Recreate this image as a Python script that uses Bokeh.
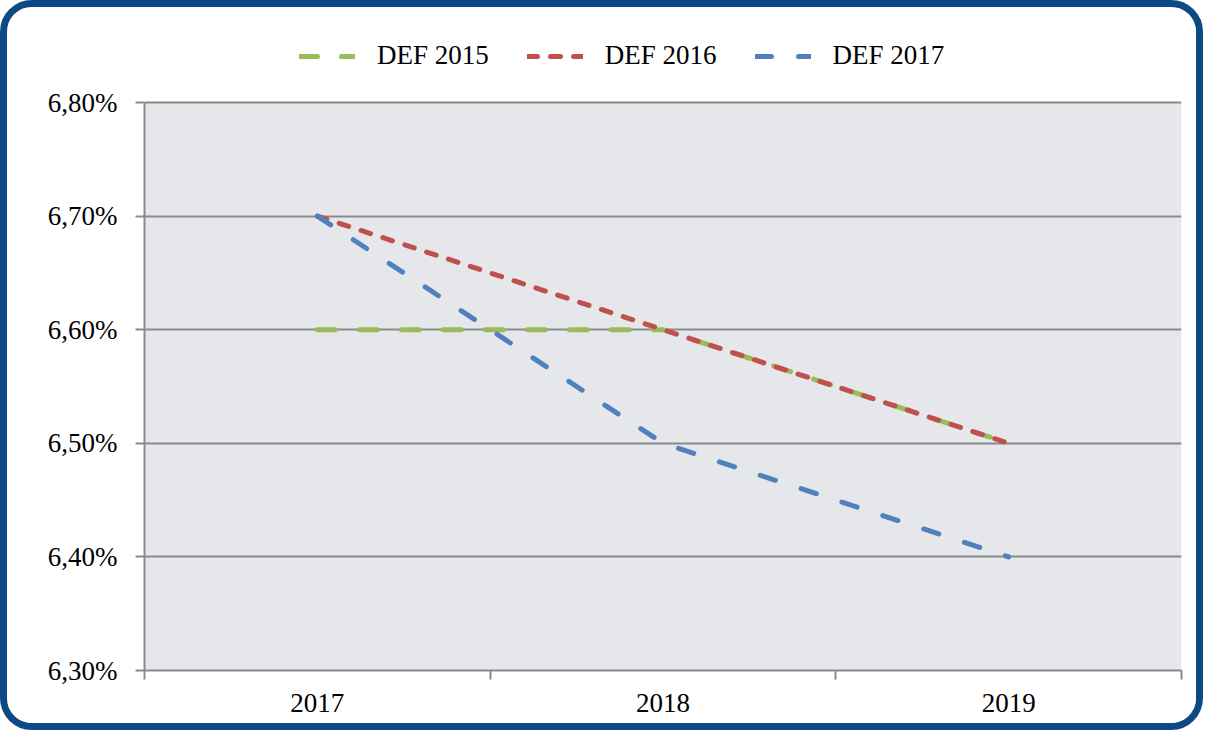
from bokeh.plotting import figure
from bokeh.models import (FixedTicker, CustomJSTickFormatter, Legend, LegendItem, Range1d, BoxAnnotation)
from bokeh.embed import file_html
from bokeh.resources import INLINE

# ---- data ----
years = ["2017", "2018", "2019"]
def_2015 = [6.60, 6.60, 6.50]
def_2016 = [6.70, 6.60, 6.50]
def_2017 = [6.70, 6.50, 6.40]
series_names = ["DEF 2015", "DEF 2016", "DEF 2017"]
y_ticks = [6.30, 6.40, 6.50, 6.60, 6.70, 6.80]

FONT = "Liberation Serif"
FS = "27px"
x = list(range(len(years)))

# layout: plot area 568px tall for the value span; frame extended upward to host the legend
y_lo, y_hi = y_ticks[0], y_ticks[-1]
area_px = 568
extra_px = 75
y_top = y_hi + (y_hi - y_lo) * extra_px / area_px

p = figure(width=1203, height=730, output_backend="svg", toolbar_location=None,
           x_range=Range1d(-0.5, len(years) - 0.5), y_range=Range1d(y_lo, y_top),
           min_border_left=137, min_border_right=29, min_border_top=20, min_border_bottom=67)
p.styles = {"border": "7px solid #0C4A84", "border-radius": "32px", "overflow": "hidden"}
p.background_fill_color = "white"
p.border_fill_color = "white"
p.outline_line_color = None

# grey plot area
p.add_layout(BoxAnnotation(bottom=y_lo, top=y_hi, fill_color="#E6E7EB", fill_alpha=1,
                           line_color=None, level="image"))

p.xgrid.visible = False
p.ygrid.grid_line_color = "#8A8A8A"
p.ygrid.grid_line_width = 2

# x axis
xa = p.xaxis[0]
xa.ticker = FixedTicker(ticks=x, minor_ticks=[i - 0.5 for i in range(len(years) + 1)])
xa.major_label_overrides = {i: y for i, y in enumerate(years)}
xa.major_tick_out = 0
xa.major_tick_in = 0
xa.minor_tick_out = 9
xa.minor_tick_in = 0
xa.minor_tick_line_color = "#8A8A8A"
xa.minor_tick_line_width = 2
xa.axis_line_color = "#8A8A8A"
xa.axis_line_width = 2
xa.major_label_standoff = 14
xa.major_label_text_font = FONT
xa.major_label_text_font_size = FS
xa.major_label_text_color = "black"

# y axis
ya = p.yaxis[0]
ya.ticker = FixedTicker(ticks=y_ticks, minor_ticks=[])
ya.bounds = (y_lo, y_hi)
ya.formatter = CustomJSTickFormatter(code="return tick.toFixed(2).replace('.', ',') + '%';")
ya.major_tick_out = 9
ya.major_tick_in = 0
ya.minor_tick_out = 0
ya.minor_tick_in = 0
ya.major_tick_line_color = "#8A8A8A"
ya.major_tick_line_width = 2
ya.axis_line_color = "#8A8A8A"
ya.axis_line_width = 2
ya.major_label_standoff = 18
ya.major_label_text_font = FONT
ya.major_label_text_font_size = FS
ya.major_label_text_color = "black"

r1 = p.line(x, def_2015, line_color="#9BBB59", line_width=5, line_dash="18 24", line_cap="round")
r2 = p.line(x, def_2016, line_color="#C0504D", line_width=5, line_dash="10 13", line_cap="round")
r3 = p.line(x, def_2017, line_color="#4F81BD", line_width=5, line_dash="16 27", line_cap="round")

legend = Legend(items=[LegendItem(label=series_names[0], renderers=[r1]),
                       LegendItem(label=series_names[1], renderers=[r2]),
                       LegendItem(label=series_names[2], renderers=[r3])],
                location=(155, 599), orientation="horizontal",
                spacing=38, glyph_width=56, glyph_height=30, label_standoff=22,
                padding=0, margin=0, border_line_color=None, background_fill_alpha=0,
                label_text_font=FONT, label_text_font_size=FS, label_text_color="black")
p.add_layout(legend, "center")

open("out.html", "w").write(file_html(p, INLINE))
